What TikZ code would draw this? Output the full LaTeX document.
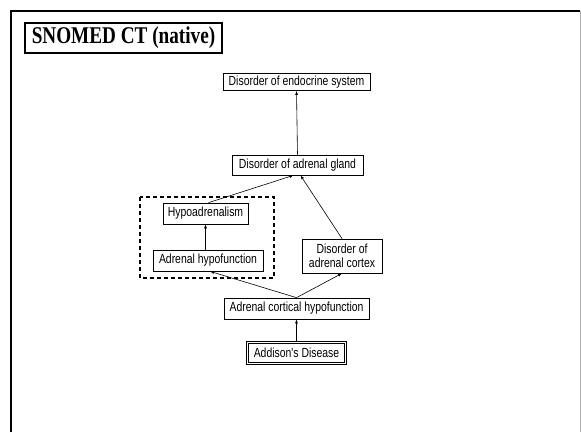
\documentclass[tikz,border=0pt]{standalone}
\usepackage{fontspec}
\usetikzlibrary{arrows.meta}
\newfontfamily\lblfont{Liberation Sans}[FakeStretch=0.79]
\newfontfamily\ttlfont{Liberation Serif}[FakeStretch=0.8]

\tikzset{
  concept/.style={draw=black, line width=0.7pt, fill=white, inner sep=0pt,
    align=center, font=\lblfont\fontsize{13.2}{14}\selectfont},
  isa/.style={-{Latex[length=4pt,width=3pt]}, line width=0.6pt},
  grouping/.style={draw=black, dashed, dash pattern=on 4pt off 3pt, line width=1.1pt},
  titlebox/.style={draw=black, line width=1.2pt, inner sep=0pt,
    font=\ttlfont\bfseries\fontsize{24}{26}\selectfont},
}

\begin{document}
\begin{tikzpicture}[x=1pt, y=-1pt]
  \useasboundingbox (0,0) rectangle (581,432);
  \fill[white] (0,0) rectangle (581,432);

  % slide frame
  \draw[line width=2pt] (11,432) -- (11,11) -- (580,11);
  \draw[gray!60, line width=0.8pt] (580,11) -- (580,432);

  % heading
  \node[titlebox, minimum width=197pt, minimum height=30pt] (title) at (123.5,38) {SNOMED CT (native)};

  % grouping of the two equivalent concepts
  \coordinate (grpA) at (140,197);
  \coordinate (grpB) at (274,278);
  \draw[grouping] (grpA) rectangle (grpB);

  % concepts
  \node[concept, minimum width=147pt, minimum height=17pt] (endo) at (296.5,82) {Disorder of endocrine system};
  \node[concept, minimum width=131pt, minimum height=20pt] (gland) at (297.5,165) {Disorder of adrenal gland};
  \node[concept, minimum width=85pt, minimum height=21pt] (hypo) at (205.5,213.5) {Hypoadrenalism};
  \node[concept, minimum width=110pt, minimum height=21pt] (ahf) at (208,260.5) {Adrenal hypofunction};
  \node[concept, minimum width=80pt, minimum height=34pt] (cortex) at (342,256) {Disorder of\\adrenal cortex};
  \node[concept, minimum width=145pt, minimum height=21pt] (ach) at (296.5,308.5) {Adrenal cortical hypofunction};
  \node[concept, line width=0.6pt, double, double distance=1.5pt,
        minimum width=98.3pt, minimum height=21.3pt] (addison) at (296.5,353) {Addison's Disease};

  % is-a links
  \draw[isa] (gland.north) -- (endo.south);
  \draw[isa] ([xshift=3pt]hypo.north) -- ([xshift=-4pt]gland.south);
  \draw[isa] (cortex.north) -- ([xshift=3pt]gland.south);
  \draw[isa] (hypo.south |- ahf.north) -- (hypo.south);
  \draw[isa] (ach.north) -- ([xshift=2pt]ahf.south);
  \draw[isa] (ach.north) -- (cortex.south);
  \draw[isa] (addison.north) -- (ach.south);
\end{tikzpicture}
\end{document}
